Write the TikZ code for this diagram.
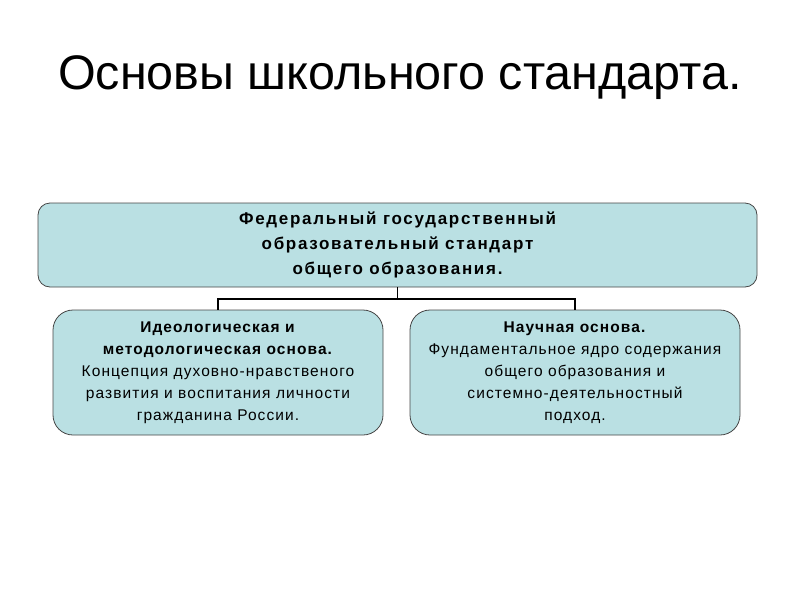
\documentclass[tikz,border=0pt]{standalone}
\usepackage{fontspec}
\setmainfont{Liberation Sans}
\newfontfamily\topfont{Liberation Sans}[LetterSpace=10]
\newfontfamily\boxfont{Liberation Sans}[LetterSpace=7]
\usepackage{tikz}
\usetikzlibrary{positioning,calc}
\usepackage{xcolor}
\definecolor{cBox}{RGB}{186,224,227}
\definecolor{cEdge}{RGB}{70,70,70}

\tikzset{
  topbox/.style={draw=cEdge,fill=cBox,rounded corners=12pt,line width=0.8pt,
    minimum width=719pt,minimum height=84pt,align=center,
    font=\topfont\bfseries\fontsize{17}{25}\selectfont},
  subbox/.style={draw=cEdge,fill=cBox,rounded corners=20pt,line width=0.8pt,
    minimum width=330pt,minimum height=125pt,align=center,
    font=\boxfont\fontsize{15.5}{22}\selectfont},
  link/.style={line width=1.2pt,black}
}

\begin{document}
\begin{tikzpicture}[x=1pt,y=-1pt]
  \useasboundingbox (0,0) rectangle (800,600);
  % Title
  \node[font=\fontsize{48.5}{60}\selectfont] (title) at (400,78) {Основы школьного стандарта.};
  % Boxes
  \node[topbox] (fed) at (397.5,245) {Федеральный государственный\\
    образовательный стандарт\\ общего образования.};
  \node[subbox] (ideo) at (218,372.5) {\textbf{Идеологическая и}\\
    \textbf{методологическая основа.}\\ Концепция духовно-нравственого\\
    развития и воспитания личности\\ гражданина России.};
  \node[subbox] (nauch) at (575,372.5) {\textbf{Научная основа.}\\
    Фундаментальное ядро содержания\\ общего образования и\\
    системно-деятельностный\\ подход.};
  % Connectors
  \coordinate (bus) at ($(fed.south)+(0,11.5)$);
  \draw[link] (fed.south) -- (bus) -| (ideo.north);
  \draw[link] (bus) -| (nauch.north);
\end{tikzpicture}
\end{document}
